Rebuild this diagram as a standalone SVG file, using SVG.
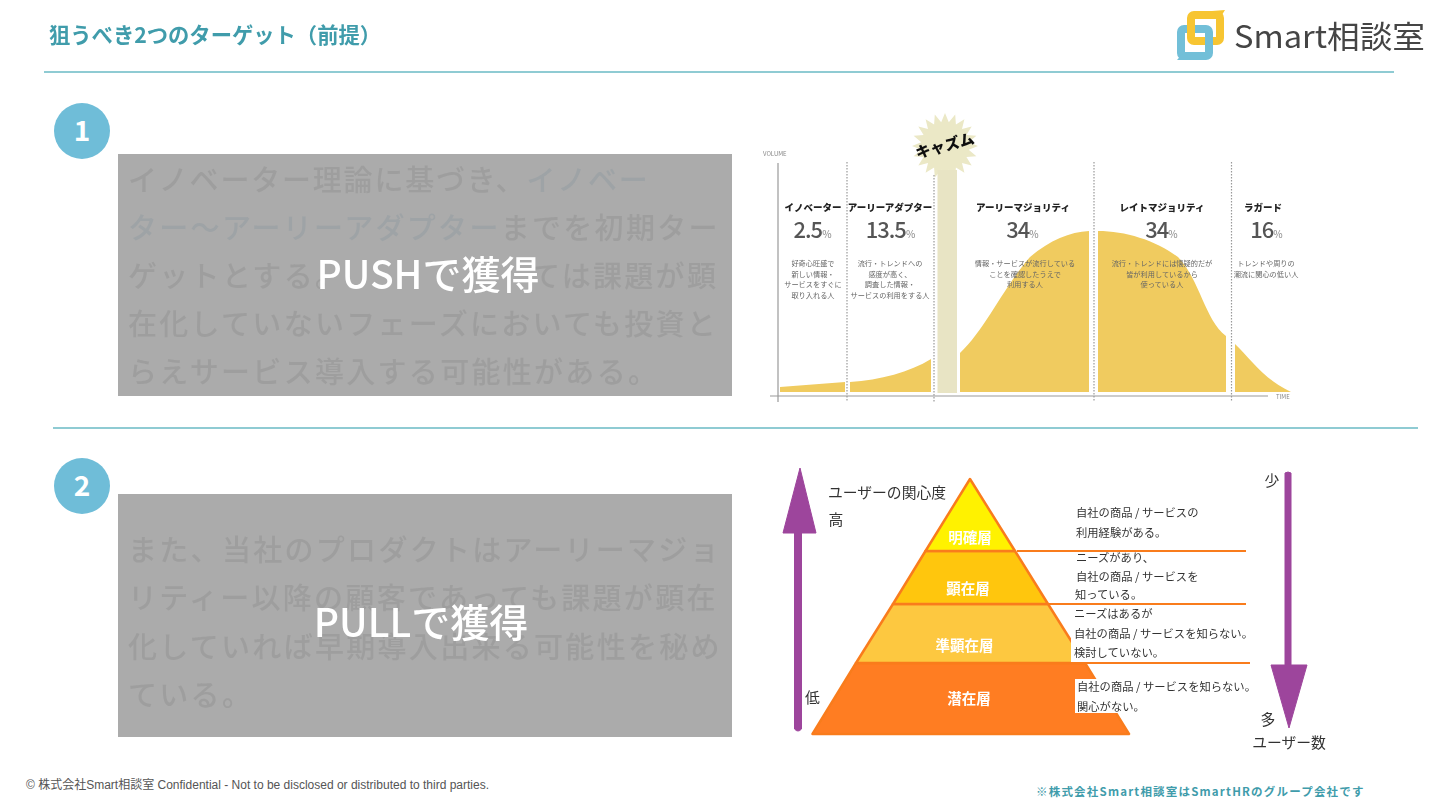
<svg xmlns="http://www.w3.org/2000/svg" width="1440" height="810" viewBox="0 0 1440 810">
<defs>
<filter id="soft" x="-5%" y="-5%" width="110%" height="110%"><feGaussianBlur stdDeviation="0.4"/></filter>
<polygon id="star" points="978,146 968.7,149.8 976.4,156.2 966.4,156.9 971.7,165.4 962,163 964.4,172.7 955.9,167.4 955.2,177.4 948.8,169.7 945,179 941.2,169.7 934.8,177.4 934.1,167.4 925.6,172.7 928,163 918.3,165.4 923.6,156.9 913.6,156.2 921.3,149.8 912,146 921.3,142.2 913.6,135.8 923.6,135.1 918.3,126.6 928,129 925.6,119.3 934.1,124.6 934.8,114.6 941.2,122.3 945,113 948.8,122.3 955.2,114.6 955.9,124.6 964.4,119.3 962,129 971.7,126.6 966.4,135.1 976.4,135.8 968.7,142.2"/>
</defs>
<style>
text{font-family:"Noto Sans CJK JP","Noto Sans",sans-serif}
.rule{stroke:#8fcbd3;stroke-width:2;fill:none}
.badge{fill:#6fbdd8}
.num{fill:#fff;font-size:28px;font-weight:700;text-anchor:middle}
.box{fill:#ababab}
.body{fill:#9e9e9e;font-size:29px;font-weight:500;letter-spacing:2.300px}
.blu{fill:#9ea3a6}
.over{fill:#fff;font-size:39px;font-weight:500;text-anchor:middle}
.area{fill:#f0cb5f}
.dot{stroke:#999;stroke-width:1.2;stroke-dasharray:1.5 1.5;fill:none}
.axis{stroke:#999;stroke-width:1.2;fill:none}
.h{font-size:9.5px;font-weight:900;fill:#222;text-anchor:middle}
.p{font-size:22px;font-weight:500;fill:#555;text-anchor:middle;letter-spacing:-1px}
.p tspan{font-size:10px;fill:#999}
.d{font-size:7.2px;fill:#666;text-anchor:middle}
.tiny{font-size:6px;fill:#888}
.tier{stroke:#f97c1f;stroke-width:2.5;stroke-linejoin:round}
.ol{stroke:#f97c1f;stroke-width:2;fill:none}
.tl{fill:#fff;font-size:14.5px;font-weight:700;text-anchor:middle}
.n{fill:#333;font-size:11.300px}
.lab{fill:#333;font-size:14.800px;text-anchor:middle}
.arr{fill:#9d459c}
</style>
<rect width="1440" height="810" fill="#fff"/>
<g id="header" filter="url(#soft)">
<text x="49" y="43" font-size="21.300" font-weight="700" fill="#3f9cab">狙うべき2つのターゲット（前提）</text>
<g id="logo">
<rect x="1181" y="29" width="28" height="27" rx="3" fill="none" stroke="#72bfd8" stroke-width="8"/>
<polygon points="1177,60 1184,52 1190,60" fill="#72bfd8"/>
<rect x="1191" y="15" width="29" height="26" rx="3" fill="none" stroke="#f7c531" stroke-width="8"/>
<polygon points="1212,11 1225,10 1220,18" fill="#f7c531"/>
<rect x="1205" y="37" width="8" height="8" fill="#72bfd8"/>
<text x="1234" y="48" font-size="31" fill="#444" textLength="191" lengthAdjust="spacingAndGlyphs">Smart相談室</text>
</g>
<line class="rule" x1="44" y1="72" x2="1394" y2="72"/>
<line class="rule" x1="53" y1="428" x2="1418" y2="428"/>
</g>
<g id="badge-1"><circle class="badge" cx="82" cy="131" r="28"/><text class="num" x="82" y="141">1</text></g>
<g id="badge-2"><circle class="badge" cx="82" cy="486" r="28"/><text class="num" x="82" y="496">2</text></g>
<g id="box-1" filter="url(#soft)">
<rect class="box" x="118" y="154" width="614" height="242"/>
<text class="body" x="128" y="191" style="letter-spacing:1.8px">イノベーター理論に基づき、<tspan class="blu">イノベー</tspan></text>
<text class="body" x="128" y="239"><tspan class="blu">ター〜アーリーアダプター</tspan>までを初期ター</text>
<text class="body" x="128" y="287">ゲットとする。</text>
<text class="body" x="531" y="287">ては課題が顕</text>
<text class="body" x="128" y="335">在化していないフェーズにおいても投資と</text>
<text class="body" x="128" y="383">らえサービス導入する可能性がある。</text>
<text class="over" x="428" y="289">PUSHで獲得</text>
</g>
<g id="box-2" filter="url(#soft)">
<rect class="box" x="118" y="494" width="614" height="243"/>
<text class="body" x="128" y="561">また、当社のプロダクトはアーリーマジョ</text>
<text class="body" x="128" y="609">リティー以降の顧客であっても課題が顕在</text>
<text class="body" x="128" y="658">化していれば早期導入出来る可能性を秘め</text>
<text class="body" x="128" y="706">ている。</text>
<text class="over" x="421" y="637">PULLで獲得</text>
</g>
<g id="chasm-chart" filter="url(#soft)">
<path class="area" d="M780 387L845 382V392H780Z"/>
<path class="area" d="M850 382C880 380 910 372 931 359V392H850Z"/>
<path class="area" d="M960 353C985 330 1005 285 1030 257C1050 240 1070 232 1089 231V392H960Z"/>
<path class="area" d="M1098 231C1125 231 1155 240 1178 257C1200 280 1205 320 1226 336V392H1098Z"/>
<path class="area" d="M1235 344C1250 358 1262 378 1291 392H1235Z"/>
<use href="#star" fill="#ebe8c6"/>
<rect x="937.500" y="170" width="19.500" height="223" fill="#e8e4c4"/>
<line class="axis" x1="778" y1="163" x2="778" y2="402"/>
<line class="axis" x1="770" y1="396" x2="1268" y2="396"/>
<line class="dot" x1="847" y1="162" x2="847" y2="402"/>
<line class="dot" x1="934" y1="175" x2="934" y2="402"/>
<line class="dot" x1="1094" y1="162" x2="1094" y2="402"/>
<line class="dot" x1="1231.500" y1="162" x2="1231.500" y2="402"/>
<text class="tiny" x="763" y="156">VOLUME</text>
<text class="tiny" x="1276" y="399">TIME</text>
<text x="945" y="151" font-size="15" font-weight="900" fill="#111" text-anchor="middle" transform="rotate(-15 945 146)">キャズム</text>
<text class="h" x="813" y="211">イノベーター</text>
<text class="h" x="890" y="211">アーリーアダプター</text>
<text class="h" x="1023" y="211">アーリーマジョリティ</text>
<text class="h" x="1162" y="211">レイトマジョリティ</text>
<text class="h" x="1263" y="211">ラガード</text>
<text class="p" x="812" y="238">2.5<tspan>%</tspan></text>
<text class="p" x="890" y="238">13.5<tspan>%</tspan></text>
<text class="p" x="1022" y="238">34<tspan>%</tspan></text>
<text class="p" x="1161" y="238">34<tspan>%</tspan></text>
<text class="p" x="1266" y="238">16<tspan>%</tspan></text>
<text class="d" x="813" y="266">好奇心旺盛で</text><text class="d" x="813" y="277">新しい情報・</text><text class="d" x="813" y="287">サービスをすぐに</text><text class="d" x="813" y="298">取り入れる人</text>
<text class="d" x="890" y="266">流行・トレンドへの</text><text class="d" x="890" y="277">感度が高く、</text><text class="d" x="890" y="287">調査した情報・</text><text class="d" x="890" y="298">サービスの利用をする人</text>
<text class="d" x="1025" y="266">情報・サービスが流行している</text><text class="d" x="1025" y="277">ことを確認したうえで</text><text class="d" x="1025" y="287">利用する人</text>
<text class="d" x="1162" y="266">流行・トレンドには懐疑的だが</text><text class="d" x="1162" y="277">皆が利用しているから</text><text class="d" x="1162" y="287">使っている人</text>
<text class="d" x="1266" y="266">トレンドや周りの</text><text class="d" x="1266" y="277">潮流に関心の低い人</text>
</g>
<g id="pyramid-chart" filter="url(#soft)">
<polygon class="tier" points="856,663 1085,663 1129,734 812.500,734" fill="#ff7d22"/>
<polygon class="tier" points="893,604 1048,604 1085,663 856,663" fill="#fdc83f"/>
<polygon class="tier" points="925.500,551 1015,551 1048,604 893,604" fill="#ffc60f"/>
<polygon class="tier" points="970,479 1015,551 925.500,551" fill="#fff200"/>
<rect x="1071" y="606" width="177" height="56" fill="#fff"/>
<rect x="1075" y="679" width="178" height="34" fill="#fff"/>
<line class="ol" x1="1017" y1="551" x2="1246" y2="551"/>
<line class="ol" x1="1048" y1="604" x2="1246" y2="604"/>
<line class="ol" x1="1085" y1="663" x2="1250" y2="663"/>
<path class="arr" d="M800 468L816 533H801.500V729Q798 733 794.500 729V533H783Z" stroke="#9d459c" stroke-linejoin="round"/>
<path class="arr" d="M1285 473Q1288 471 1291 473V665H1307L1289 728L1271 665H1285Z" stroke="#9d459c" stroke-linejoin="round"/>
<text class="tl" x="970" y="543">明確層</text>
<text class="tl" x="968" y="594">顕在層</text>
<text class="tl" x="964.500" y="651">準顕在層</text>
<text class="tl" x="969" y="704">潜在層</text>
<text class="n" x="1076" y="517">自社の商品 / サービスの</text>
<text class="n" x="1076" y="537">利用経験がある。</text>
<text class="n" x="1076" y="562">ニーズがあり、</text>
<text class="n" x="1076" y="581">自社の商品 / サービスを</text>
<text class="n" x="1075" y="599">知っている。</text>
<text class="n" x="1074" y="618">ニーズはあるが</text>
<text class="n" x="1074" y="638">自社の商品 / サービスを知らない。</text>
<text class="n" x="1074" y="657">検討していない。</text>
<text class="n" x="1077" y="691">自社の商品 / サービスを知らない。</text>
<text class="n" x="1077" y="711">関心がない。</text>
<text class="lab" x="887" y="498">ユーザーの関心度</text>
<text class="lab" x="836" y="525">高</text>
<text class="lab" x="812.500" y="703">低</text>
<text class="lab" x="1272" y="486">少</text>
<text class="lab" x="1268" y="725">多</text>
<text class="lab" x="1289" y="748">ユーザー数</text>
</g>
<g id="footer">
<text x="26" y="789" font-size="12" fill="#555" style="font-family:'Liberation Sans','Noto Sans CJK JP',sans-serif">© 株式会社Smart相談室 Confidential - Not to be disclosed or distributed to third parties.</text>
<text x="1036" y="796" font-size="11.500" font-weight="700" fill="#3f9cab" letter-spacing="1.200">※株式会社Smart相談室はSmartHRのグループ会社です</text>
</g>
</svg>
